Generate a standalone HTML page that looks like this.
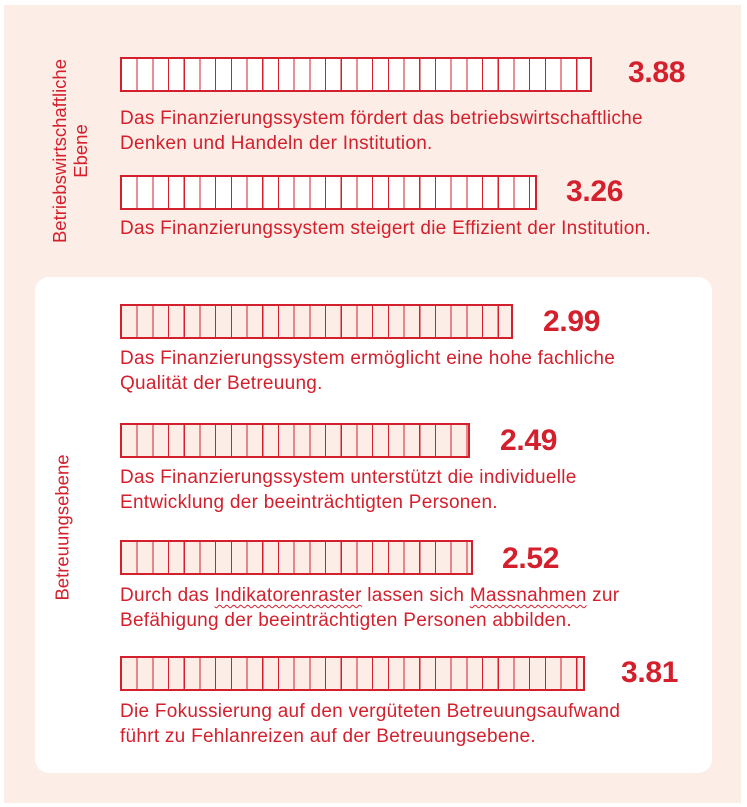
<!DOCTYPE html>
<html><head><meta charset="utf-8"><style>
body{margin:0;width:747px;height:807px;background:#fff;position:relative;overflow:hidden;font-family:"Liberation Sans",sans-serif;color:#d41f2c}
.peach{position:absolute;left:4px;top:5px;width:737px;height:798px;background:#fcede6}
.box{position:absolute;left:35px;top:277px;width:677px;height:496px;background:#fff;border-radius:14px}
.bar{position:absolute;left:120px;height:31px;border:2px solid #d41f2c;box-sizing:content-box;
background-image:repeating-linear-gradient(to right,transparent 0,transparent 14.6px,#d41f2c 14.6px,#d41f2c 15.7px)}
.w{background-color:#fff}.p{background-color:#fcede6}
.val{position:absolute;font-weight:bold;font-size:30px;line-height:30px;letter-spacing:-0.3px}
.t{position:absolute;left:120px;font-size:19px;line-height:25px;white-space:nowrap;letter-spacing:0.27px}
.rot{position:absolute;font-size:18.5px;line-height:21px;text-align:center;transform:rotate(-90deg);transform-origin:center;white-space:nowrap}
u{text-decoration:underline wavy #d41f2c;text-decoration-thickness:1px;text-underline-offset:3px}
</style></head><body>
<div class="peach"></div>
<div class="box"></div>
<div class="rot" style="left:-30px;top:130px;width:200px;height:42px">Betriebswirtschaftliche<br>Ebene</div>
<div class="rot" style="left:-18px;top:517px;width:160px;height:21px">Betreuungsebene</div>

<div class="bar w" style="top:57px;width:468px"></div>
<div class="val" style="left:628px;top:58px">3.88</div>
<div class="t" style="top:106px">Das Finanzierungssystem fördert das betriebswirtschaftliche<br>Denken und Handeln der Institution.</div>

<div class="bar w" style="top:175px;width:413px"></div>
<div class="val" style="left:566px;top:177px">3.26</div>
<div class="t" style="top:216px">Das Finanzierungssystem steigert die Effizient der Institution.</div>

<div class="bar p" style="top:304px;width:389px"></div>
<div class="val" style="left:543px;top:307px">2.99</div>
<div class="t" style="top:346px">Das Finanzierungssystem ermöglicht eine hohe fachliche<br>Qualität der Betreuung.</div>

<div class="bar p" style="top:423px;width:346px"></div>
<div class="val" style="left:500px;top:426px">2.49</div>
<div class="t" style="top:465px">Das Finanzierungssystem unterstützt die individuelle<br>Entwicklung der beeinträchtigten Personen.</div>

<div class="bar p" style="top:540px;width:349px"></div>
<div class="val" style="left:502px;top:544px">2.52</div>
<div class="t" style="top:583px">Durch das <u>Indikatorenraster</u> lassen sich <u>Massnahmen</u> zur<br>Befähigung der beeinträchtigten Personen abbilden.</div>

<div class="bar p" style="top:656px;width:461px"></div>
<div class="val" style="left:621px;top:658px">3.81</div>
<div class="t" style="top:699px">Die Fokussierung auf den vergüteten Betreuungsaufwand<br>führt zu Fehlanreizen auf der Betreuungsebene.</div>
</body></html>
